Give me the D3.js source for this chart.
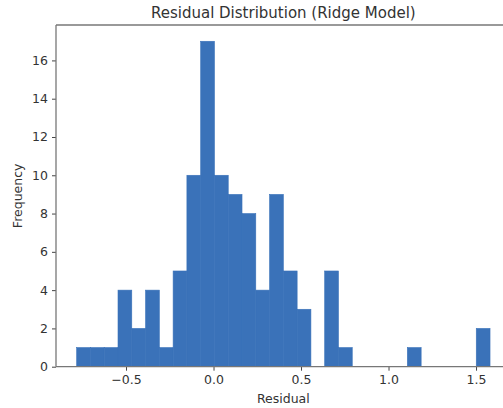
<!DOCTYPE html>
<html>
<head>
<meta charset="utf-8">
<script src="https://cdn.jsdelivr.net/npm/d3@7"></script>
<style>
  body { margin: 0; background: #fff; }
  text { font-family: "DejaVu Sans", sans-serif; fill: #333; }
</style>
</head>
<body>
<div id="chart"></div>
<script>
// histogram: 30 bins between binStart and binEnd
const binStart = -0.782
const binEnd = 1.580
const counts = [1, 1, 1, 4, 2, 4, 1, 5, 10, 17, 10, 9, 8, 4, 9, 5, 3, 0, 5, 1, 0, 0, 0, 0, 1, 0, 0, 0, 0, 2]
const xTicks = [-0.5, 0.0, 0.5, 1.0, 1.5]
const yTicks = [0, 2, 4, 6, 8, 10, 12, 14, 16]

const W = 503, H = 408
const MARGIN = { TOP: 25, LEFT: 56, BOTTOM: 408 - 366.7 }
const PLOT_W = 454.7
const PLOT_H = H - MARGIN.TOP - MARGIN.BOTTOM

const binW = (binEnd - binStart) / counts.length
const bins = counts.map((c, i) => ({ x0: binStart + i * binW, x1: binStart + (i + 1) * binW, n: c }))

const pad = (binEnd - binStart) * 0.05
const x = d3.scaleLinear().domain([binStart - pad, binEnd + pad]).range([0, PLOT_W])
const y = d3.scaleLinear().domain([0, d3.max(counts) * 1.05]).range([PLOT_H, 0])

const svg = d3.select("#chart").append("svg")
  .attr("width", W)
  .attr("height", H)

const g = svg.append("g")
  .attr("transform", `translate(${MARGIN.LEFT}, ${MARGIN.TOP})`)

g.selectAll("rect")
  .data(bins.filter(d => d.n > 0))
  .enter()
  .append("rect")
    .attr("x", d => x(d.x0))
    .attr("y", d => y(d.n))
    .attr("width", d => x(d.x1) - x(d.x0))
    .attr("height", d => PLOT_H - y(d.n))
    .attr("fill", "#3a72b9")
    .attr("stroke", "#3a72b9")
    .attr("stroke-width", 0.6)

const xAxis = g.append("g")
  .attr("transform", `translate(0, ${PLOT_H})`)
  .call(d3.axisBottom(x).tickValues(xTicks).tickSize(4).tickPadding(4)
    .tickFormat(d => d3.format(".1f")(d).replace("-", "\u2212")))

const yAxis = g.append("g")
  .call(d3.axisLeft(y).tickValues(yTicks).tickSize(4).tickPadding(4))

for (const ax of [xAxis, yAxis]) {
  ax.select(".domain").remove()
  ax.selectAll("line").attr("stroke", "#444").attr("stroke-width", 1)
  ax.selectAll("text").attr("font-size", 12.5).attr("fill", "#333")
    .attr("font-family", "DejaVu Sans, sans-serif")
}

// spines: left, bottom, top (right one falls outside the window)
g.append("line").attr("x1", 0).attr("x2", 0).attr("y1", 0).attr("y2", PLOT_H)
  .attr("stroke", "#777").attr("stroke-width", 1.3)
g.append("line").attr("x1", 0).attr("x2", PLOT_W).attr("y1", PLOT_H).attr("y2", PLOT_H)
  .attr("stroke", "#777").attr("stroke-width", 1.3)
g.append("line").attr("x1", 0).attr("x2", PLOT_W).attr("y1", 0).attr("y2", 0)
  .attr("stroke", "#777").attr("stroke-width", 1.3)
g.append("line").attr("x1", PLOT_W).attr("x2", PLOT_W).attr("y1", 0).attr("y2", PLOT_H)
  .attr("stroke", "#777").attr("stroke-width", 1.3)

svg.append("text")
  .attr("x", MARGIN.LEFT + PLOT_W / 2)
  .attr("y", 18)
  .attr("text-anchor", "middle")
  .attr("font-size", 15)
  .text("Residual Distribution (Ridge Model)")

svg.append("text")
  .attr("x", MARGIN.LEFT + PLOT_W / 2)
  .attr("y", 403)
  .attr("text-anchor", "middle")
  .attr("font-size", 12.5)
  .text("Residual")

svg.append("text")
  .attr("transform", `translate(22, ${MARGIN.TOP + PLOT_H / 2}) rotate(-90)`)
  .attr("text-anchor", "middle")
  .attr("font-size", 12.5)
  .text("Frequency")
</script>
</body>
</html>
